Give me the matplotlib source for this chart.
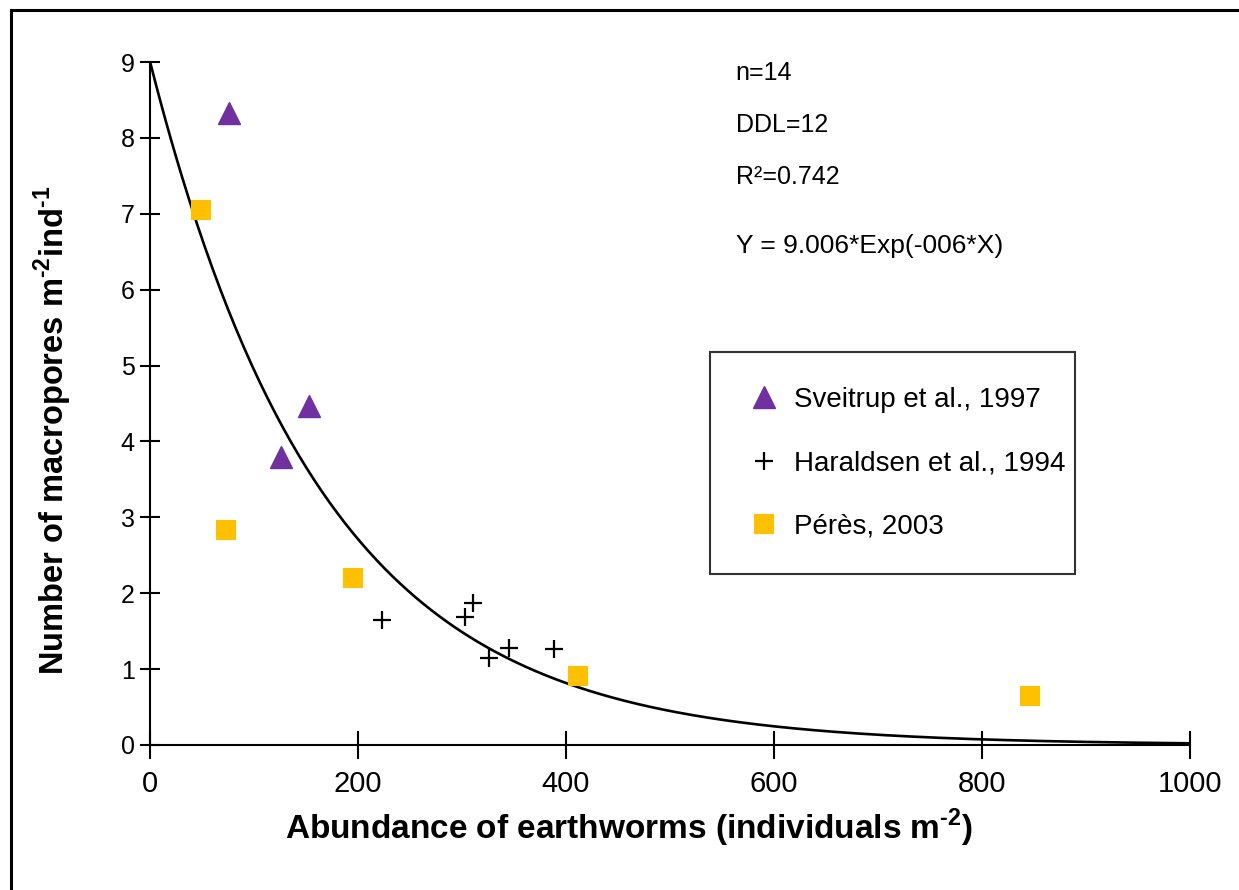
import numpy as np
import matplotlib
matplotlib.use("Agg")
import matplotlib.pyplot as plt
from matplotlib.lines import Line2D

plt.rcParams["font.family"] = ["Liberation Sans", "DejaVu Sans"]
plt.rcParams["mathtext.fontset"] = "custom"
plt.rcParams["mathtext.rm"] = "Liberation Sans:bold"
plt.rcParams["mathtext.bf"] = "Liberation Sans:bold"

# data
sveitrup_x = [76, 153, 126]
sveitrup_y = [8.33, 4.47, 3.79]
haraldsen_x = [223, 303, 311, 326, 345, 388]
haraldsen_y = [1.65, 1.69, 1.87, 1.15, 1.28, 1.26]
peres_x = [49, 73, 195, 412, 846]
peres_y = [7.05, 2.83, 2.20, 0.91, 0.65]

# fitted model stated on the chart
fit_a = 9.006
fit_b = 0.006

stats = ["n=14", "DDL=12", "R²=0.742"]
equation = "Y = 9.006*Exp(-006*X)"

fig = plt.figure(figsize=(12.39, 8.9), dpi=100)
ax = fig.add_axes([150 / 1239, 145 / 890, 1040 / 1239, 683 / 890])

xs = np.linspace(0, 1000, 400)
ax.plot(xs, fit_a * np.exp(-fit_b * xs), color="black", lw=1.9, zorder=2)

ax.plot(sveitrup_x, sveitrup_y, "^", color="#7030A0", ms=16, mec="#7030A0",
        ls="none", label="Sveitrup et al., 1997", zorder=3)
ax.plot(haraldsen_x, haraldsen_y, "+", color="black", ms=13, mew=1.6,
        ls="none", label="Haraldsen et al., 1994", zorder=3)
ax.plot(peres_x, peres_y, "s", color="#FFC000", ms=13, mec="#FFC000", mew=1.5,
        ls="none", label="Pérès, 2003", zorder=3)

ax.set_xlim(0, 1000)
ax.set_ylim(0, 9)
ax.set_xticks(range(0, 1001, 200))
ax.set_yticks(range(0, 10))
for s in ["top", "right"]:
    ax.spines[s].set_visible(False)
for s in ["left", "bottom"]:
    ax.spines[s].set_linewidth(1.5)
ax.tick_params(axis="y", direction="inout", length=14, width=1.5, labelsize=18, pad=4)
ax.tick_params(axis="x", direction="inout", length=20, width=1.5, labelsize=21, pad=8)

ax.set_xlabel("Abundance of earthworms (individuals m$^{\\text{-2}}$)",
              fontsize=24, fontweight="bold")
ax.set_ylabel("Number of macropores m$^{\\text{-2}}$ind$^{\\text{-1}}$",
              fontsize=23.5, fontweight="bold")
ax.xaxis.set_label_coords(0.461, -0.09)
ax.yaxis.set_label_coords(-0.073, 0.461)

for i, t in enumerate(stats):
    ax.text(563, 8.85 - i * 0.68, t, fontsize=18, va="center", ha="left")
ax.text(563, 6.58, equation, fontsize=19, va="center", ha="left")

leg = ax.legend(loc="upper left", mode="expand",
                bbox_to_anchor=(560 / 1040, 393 / 683 - 0.01, 365 / 1040, 0.01),
                fontsize=20, frameon=True, fancybox=False, edgecolor="black",
                labelspacing=1.35, handletextpad=0.36, borderpad=1.25,
                handlelength=1.4, borderaxespad=0)
leg.get_frame().set_linewidth(1.5)

fig.add_artist(Line2D([11 / 1239, 11 / 1239], [0, 1 - 10 / 890], color="black", lw=2.2))
fig.add_artist(Line2D([11 / 1239, 1], [1 - 10 / 890, 1 - 10 / 890], color="black", lw=2.2))

fig.savefig("out.png", dpi=100)
